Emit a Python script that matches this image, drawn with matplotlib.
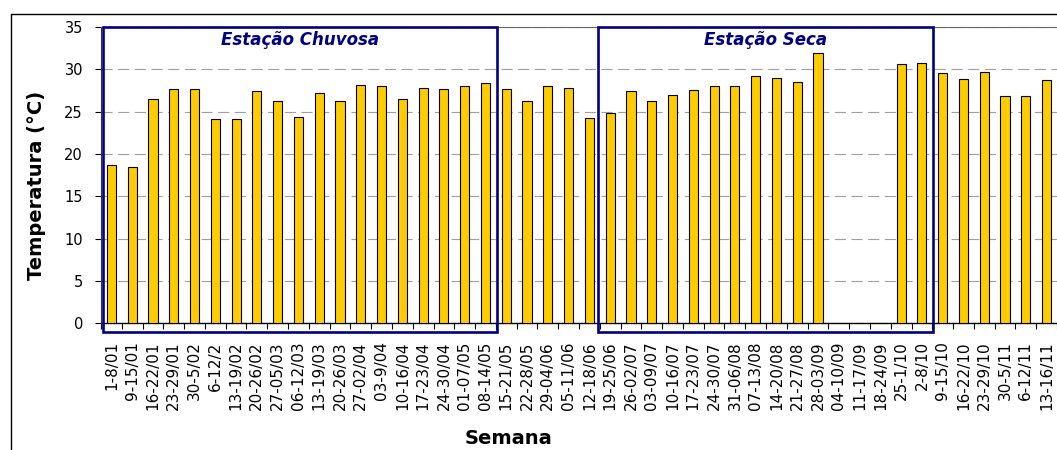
import numpy as np
import matplotlib
matplotlib.use('Agg')
import matplotlib.pyplot as plt
from matplotlib.patches import Rectangle
from matplotlib.lines import Line2D

# semanas (eixo x)
semanas = ['1-8/01', '9-15/01', '16-22/01', '23-29/01', '30-5/02', '6-12/2',
           '13-19/02', '20-26/02', '27-05/03', '06-12/03', '13-19/03', '20-26/03',
           '27-02/04', '03-9/04', '10-16/04', '17-23/04', '24-30/04', '01-07/05',
           '08-14/05', '15-21/05', '22-28/05', '29-04/06', '05-11/06', '12-18/06',
           '19-25/06', '26-02/07', '03-09/07', '10-16/07', '17-23/07', '24-30/07',
           '31-06/08', '07-13/08', '14-20/08', '21-27/08', '28-03/09', '04-10/09',
           '11-17/09', '18-24/09', '25-1/10', '2-8/10', '9-15/10', '16-22/10',
           '23-29/10', '30-5/11', '6-12/11', '13-16/11']

# temperatura media semanal (°C); sem dados em set/09
temperatura = [18.7, 18.5, 26.5, 27.7, 27.7, 24.1, 24.1, 27.4, 26.2, 24.4,
               27.2, 26.2, 28.2, 28.0, 26.5, 27.8, 27.7, 28.0, 28.4, 27.7,
               26.2, 28.0, 27.8, 24.3, 24.8, 27.4, 26.3, 27.0, 27.5, 28.0,
               28.0, 29.2, 29.0, 28.5, 31.9, np.nan, np.nan, np.nan, 30.6, 30.7,
               29.6, 28.9, 29.7, 26.8, 26.8, 28.7]

# estacoes: (nome, primeira semana, ultima semana)
estacoes = [('Estação Chuvosa', 0, 18), ('Estação Seca', 24, 39)]

plt.rcParams['font.family'] = ['DejaVu Sans']

fig = plt.figure(figsize=(10.57, 4.5), dpi=100)
ax = fig.add_axes([101 / 1057, 1 - 323.3 / 450, 1 - 101 / 1057, (323.3 - 27) / 450])

x = np.arange(len(semanas))
ax.bar(x, temperatura, width=0.44, color='#FFCC00', edgecolor='black', linewidth=0.8, zorder=3)

ax.set_xlim(-0.5, len(semanas) - 0.5)
ax.set_ylim(0, 35)
ax.set_yticks(np.arange(0, 36, 5))
ax.set_xticks(x)
ax.set_xticklabels(semanas, rotation=90, fontsize=11)
ax.set_xticks(np.arange(-0.5, len(semanas), 1), minor=True)
ax.tick_params(axis='x', which='major', length=0, pad=13)
ax.tick_params(axis='x', which='minor', length=4.5, width=0.8, direction='out')
ax.tick_params(axis='y', length=4.5, width=0.8, pad=8.5, labelsize=10.5)

ax.yaxis.grid(True, color='#a0a0a0', linestyle=(0, (10, 5)), linewidth=0.8, zorder=0)
ax.set_axisbelow(True)

ax.spines['right'].set_visible(False)
ax.spines['top'].set_color('#666666')
ax.spines['top'].set_linewidth(0.8)
ax.spines['left'].set_color('#333333')
ax.spines['bottom'].set_linewidth(1.0)

# caixas das estacoes
for nome, i0, i1 in estacoes:
    x0 = i0 - 0.4 if i0 == 0 else i0 - 0.6
    x1 = i1 + 0.55
    ax.add_patch(Rectangle((x0, -1.05), x1 - x0, 36.1, fill=False, edgecolor='#000080',
                           linewidth=1.9, clip_on=False, zorder=5))
    ax.text((x0 + x1) / 2, 33.5, nome, ha='center', va='center', color='#000080',
            fontsize=12, fontweight='bold', fontstyle='italic', zorder=6)

fig.text(36 / 1057, 1 - 185 / 450, 'Temperatura (°C)', rotation=90, ha='center', va='center',
         fontsize=14, fontweight='bold')
fig.text(509 / 1057, 1 - 438 / 450, 'Semana', ha='center', va='center',
         fontsize=14, fontweight='bold')

# moldura externa do grafico
fig.add_artist(Line2D([11 / 1057, 11 / 1057, 1.0], [0.0, 1 - 13.5 / 450, 1 - 13.5 / 450],
                      transform=fig.transFigure, color='black', linewidth=1.0))

fig.savefig('out.png', dpi=100)
